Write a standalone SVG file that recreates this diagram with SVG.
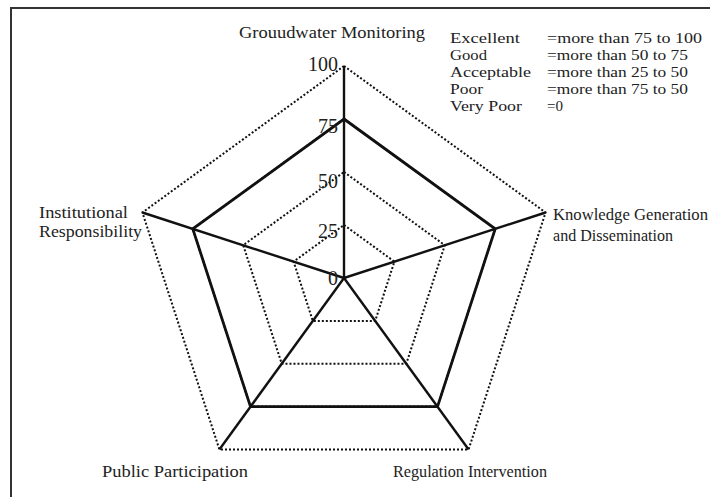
<svg xmlns="http://www.w3.org/2000/svg" width="710" height="497" viewBox="0 0 710 497">
<style>
text{font-family:"Liberation Serif","DejaVu Serif","Times New Roman",serif;fill:#222}
.lab{font-size:17px}
.leg{font-size:15px}
.num{font-size:20px;text-anchor:end}
.grid{fill:none;stroke:#111;stroke-width:2;stroke-dasharray:2 2}
.data{fill:none;stroke:#111;stroke-width:2.8;stroke-linejoin:miter}
.axis{stroke:#111;stroke-width:2.4}
.frame{stroke:#333;stroke-width:2;fill:none}
</style>
<rect width="710" height="497" fill="#fff"/>
<path class="frame" d="M11,497 V8 H710"/>
<g id="grid">
<polygon class="grid" points="344,66 545.6,212.5 468.6,449.5 219.4,449.5 142.4,212.5"/>
<polygon class="grid" points="344,119 495.2,228.9 437.5,406.6 250.5,406.6 192.8,228.9"/>
<polygon class="grid" points="344,172 444.8,245.2 406.3,363.7 281.7,363.7 243.2,245.2"/>
<polygon class="grid" points="344,225 394.4,261.6 375.2,320.9 312.8,320.9 293.6,261.6"/>
</g>
<g id="connectors">
<line class="axis" x1="344" y1="278" x2="344" y2="66"/>
<line class="axis" x1="344" y1="278" x2="545.6" y2="212.5"/>
<line class="axis" x1="344" y1="278" x2="468.6" y2="449.5"/>
<line class="axis" x1="344" y1="278" x2="219.4" y2="449.5"/>
<line class="axis" x1="344" y1="278" x2="142.4" y2="212.5"/>
<polygon class="data" points="344,119 495.2,228.9 437.5,406.6 250.5,406.6 192.8,228.9"/>
</g>
<g id="scale">
<text class="num" x="338" y="71">100</text>
<text class="num" x="338" y="133">75</text>
<text class="num" x="338" y="188">50</text>
<text class="num" x="338" y="238">25</text>
<text class="num" x="338" y="285">0</text>
</g>
<g id="groundwater-monitoring">
<text class="lab" x="239" y="38" textLength="186" lengthAdjust="spacingAndGlyphs">Grouudwater Monitoring</text>
</g>
<g id="knowledge-generation">
<text class="lab" x="553" y="220" textLength="155" lengthAdjust="spacingAndGlyphs">Knowledge Generation</text>
<text class="lab" x="553" y="241" textLength="120" lengthAdjust="spacingAndGlyphs">and Dissemination</text>
</g>
<g id="regulation-intervention">
<text class="lab" x="393" y="477" textLength="154" lengthAdjust="spacingAndGlyphs">Regulation Intervention</text>
</g>
<g id="public-participation">
<text class="lab" x="102" y="477" textLength="146" lengthAdjust="spacingAndGlyphs">Public Participation</text>
</g>
<g id="institutional-responsibility">
<text class="lab" x="39" y="218" textLength="89" lengthAdjust="spacingAndGlyphs">Institutional</text>
<text class="lab" x="39" y="237" textLength="103" lengthAdjust="spacingAndGlyphs">Responsibility</text>
</g>
<g id="legend">
<text class="leg" x="450" y="43" textLength="70" lengthAdjust="spacingAndGlyphs">Excellent</text>
<text class="leg" x="450" y="60" textLength="37" lengthAdjust="spacingAndGlyphs">Good</text>
<text class="leg" x="450" y="77" textLength="81" lengthAdjust="spacingAndGlyphs">Acceptable</text>
<text class="leg" x="450" y="94" textLength="33" lengthAdjust="spacingAndGlyphs">Poor</text>
<text class="leg" x="450" y="111" textLength="72" lengthAdjust="spacingAndGlyphs">Very Poor</text>
<text class="leg" x="547" y="43" textLength="155" lengthAdjust="spacingAndGlyphs">=more than 75 to 100</text>
<text class="leg" x="547" y="60" textLength="141" lengthAdjust="spacingAndGlyphs">=more than 50 to 75</text>
<text class="leg" x="547" y="77" textLength="141" lengthAdjust="spacingAndGlyphs">=more than 25 to 50</text>
<text class="leg" x="547" y="94" textLength="141" lengthAdjust="spacingAndGlyphs">=more than 75 to 50</text>
<text class="leg" x="547" y="111" textLength="16" lengthAdjust="spacingAndGlyphs">=0</text>
</g>
</svg>
